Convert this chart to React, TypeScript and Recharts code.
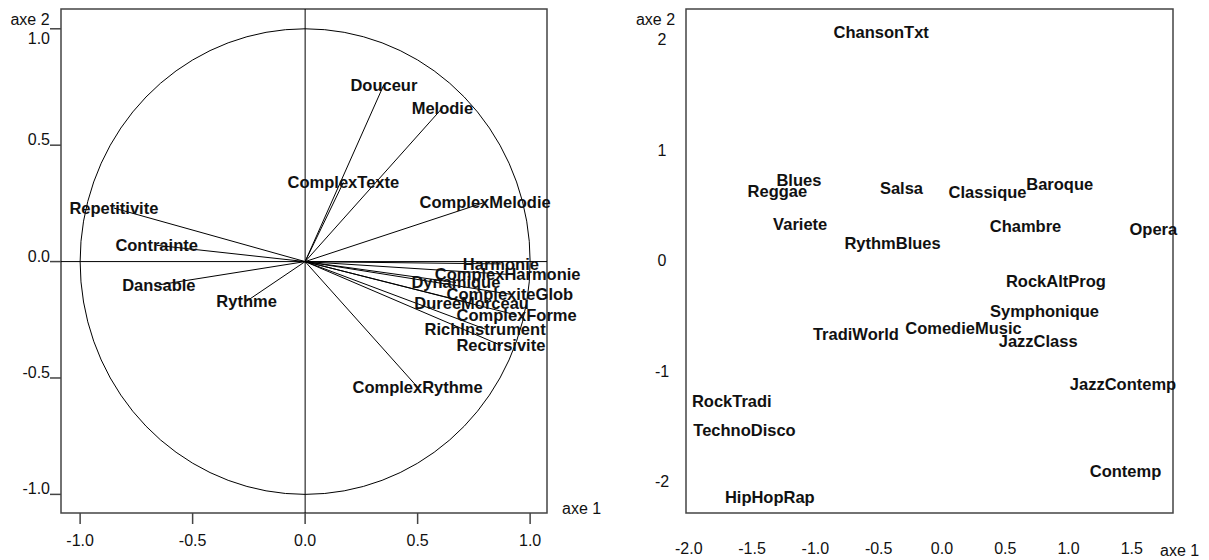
import React from 'react';
import {
  ScatterChart,
  Scatter,
  XAxis,
  YAxis,
  ReferenceLine,
  ReferenceArea,
} from 'recharts';

// correlation circle: variables (axe 1, axe 2)
const VAR_NAMES = [
  'Douceur', 'Melodie', 'ComplexTexte', 'ComplexMelodie', 'Repetitivite', 'Contrainte',
  'Dansable', 'Rythme', 'Harmonie', 'ComplexHarmonie', 'Dynamique', 'ComplexiteGlob',
  'DureeMorceau', 'ComplexForme', 'RichInstrument', 'Recursivite', 'ComplexRythme',
];
const VAR_AXE1 = [0.35, 0.61, 0.17, 0.8, -0.85, -0.66, -0.65, -0.26, 0.87, 0.9, 0.67, 0.91, 0.74, 0.94, 0.8, 0.87, 0.5];
const VAR_AXE2 = [0.76, 0.66, 0.34, 0.255, 0.23, 0.07, -0.1, -0.17, -0.01, -0.055, -0.09, -0.14, -0.18, -0.23, -0.29, -0.36, -0.54];

// genres map
const GENRES = [
  'ChansonTxt', 'Blues', 'Reggae', 'Variete', 'RythmBlues', 'Salsa', 'Classique', 'Baroque',
  'Chambre', 'Opera', 'RockAltProg', 'Symphonique', 'ComedieMusic', 'JazzClass', 'JazzContemp',
  'Contemp', 'TradiWorld', 'RockTradi', 'TechnoDisco', 'HipHopRap',
];
const GENRE_AXE1 = [-0.48, -1.13, -1.3, -1.12, -0.39, -0.32, 0.36, 0.93, 0.66, 1.67, 0.9, 0.81, 0.17, 0.76, 1.43, 1.45, -0.68, -1.66, -1.56, -1.36];
const GENRE_AXE2 = [2.12, 0.78, 0.68, 0.38, 0.21, 0.71, 0.67, 0.74, 0.36, 0.335, -0.14, -0.41, -0.56, -0.68, -1.07, -1.855, -0.615, -1.22, -1.48, -2.09];

const LEFT_TICKS = [-1, -0.5, 0, 0.5, 1];
const RIGHT_X_TICKS = [-2, -1.5, -1, -0.5, 0, 0.5, 1, 1.5];
const RIGHT_Y_TICKS = [-2, -1, 0, 1, 2];

const L_X = [-1.085, 1.075];
const L_Y = [-1.08, 1.085];
const R_X = [-2.022, 1.825];
const R_Y = [-2.235, 2.326];

const variables = VAR_NAMES.map((name, i) => ({ name, x: VAR_AXE1[i], y: VAR_AXE2[i] }));
const genres = GENRES.map((name, i) => ({ name, x: GENRE_AXE1[i], y: GENRE_AXE2[i] }));

// unit circle outline (radius 1)
const circle = Array.from({ length: 73 }, (_, i) => {
  const a = (i * 5 * Math.PI) / 180;
  return { x: Math.cos(a), y: Math.sin(a) };
});

const FONT = '"Liberation Sans", Arial, sans-serif';
const INK = '#111';
const BOX = '#444';

const NameLabel = (props: any) => {
  const { cx, cy, payload } = props;
  return (
    <text x={cx} y={cy} dy="0.36em" textAnchor="middle" fontFamily={FONT} fontSize={16.5} fontWeight="bold" fill={INK}>
      {payload.name}
    </text>
  );
};

const LeftYTick = (props: any) => {
  const { x, y, payload } = props;
  // top label sits under its tick, under the "axe 2" title
  const dy = payload.value === 1 ? 15 : 0;
  return (
    <text x={x} y={y + dy} textAnchor="end" fontFamily={FONT} fontSize={16} fill={INK}>
      {payload.value.toFixed(1)}
    </text>
  );
};

const RightYTick = (props: any) => {
  const { x, y, payload } = props;
  return (
    <text x={x} y={y} textAnchor="middle" fontFamily={FONT} fontSize={16} fill={INK}>
      {payload.value}
    </text>
  );
};

const CorCircle = () => (
  <ScatterChart width={620} height={560} margin={{ top: 9, right: 73, bottom: 7, left: 11 }}>
    <XAxis
      type="number"
      dataKey="x"
      domain={L_X}
      ticks={LEFT_TICKS}
      tickFormatter={(v: number) => v.toFixed(1)}
      height={40}
      tickSize={11}
      tickMargin={11}
      axisLine={false}
      tickLine={{ stroke: BOX, strokeWidth: 1.5 }}
      tick={{ fontSize: 16, fill: INK, fontFamily: FONT }}
      label={{ value: 'axe 1', position: 'right', offset: 15, dy: -25, fontSize: 16, fill: INK, fontFamily: FONT }}
    />
    <YAxis
      type="number"
      dataKey="y"
      domain={L_Y}
      ticks={LEFT_TICKS}
      width={50}
      tickSize={11}
      tickMargin={0}
      axisLine={false}
      tickLine={{ stroke: BOX, strokeWidth: 1.5 }}
      tick={<LeftYTick />}
      label={{ value: 'axe 2', position: 'top', offset: -16, dx: -6, fontSize: 16, fill: INK, fontFamily: FONT }}
    />
    <ReferenceArea x1={L_X[0]} x2={L_X[1]} y1={L_Y[0]} y2={L_Y[1]} fill="none" stroke={BOX} strokeWidth={1.5} />
    <ReferenceLine x={0} stroke="#000" />
    <ReferenceLine y={0} stroke="#000" />
    <Scatter data={circle} line={{ stroke: '#000', strokeWidth: 1 }} shape={() => <g />} isAnimationActive={false} />
    {variables.map((v) => (
      <ReferenceLine key={v.name} segment={[{ x: 0, y: 0 }, { x: v.x, y: v.y }]} stroke="#000" />
    ))}
    <Scatter data={variables} shape={NameLabel} isAnimationActive={false} />
  </ScatterChart>
);

const GenreMap = () => (
  <ScatterChart width={609} height={560} margin={{ top: 9, right: 36, bottom: 7, left: 36 }}>
    <XAxis
      type="number"
      dataKey="x"
      domain={R_X}
      ticks={RIGHT_X_TICKS}
      tickFormatter={(v: number) => v.toFixed(1)}
      height={40}
      tickSize={0}
      tickMargin={30}
      axisLine={false}
      tickLine={false}
      tick={{ fontSize: 16, fill: INK, fontFamily: FONT }}
      label={{ value: 'axe 1', position: 'right', offset: -13, dy: 17, fontSize: 16, fill: INK, fontFamily: FONT }}
    />
    <YAxis
      type="number"
      dataKey="y"
      domain={R_Y}
      ticks={RIGHT_Y_TICKS}
      width={50}
      tickSize={0}
      tickMargin={24}
      axisLine={false}
      tickLine={false}
      tick={<RightYTick />}
      label={{ value: 'axe 2', position: 'top', offset: -16, dx: -5.5, fontSize: 16, fill: INK, fontFamily: FONT }}
    />
    <ReferenceArea x1={R_X[0]} x2={R_X[1]} y1={R_Y[0]} y2={R_Y[1]} fill="none" stroke={BOX} strokeWidth={1.5} />
    <Scatter data={genres} shape={NameLabel} isAnimationActive={false} />
  </ScatterChart>
);

export default function App() {
  return (
    <div style={{ position: 'absolute', left: 0, top: 0, width: 1209, height: 560, background: '#fff', fontFamily: FONT }}>
      <div style={{ position: 'absolute', left: 0, top: 0 }}>
        <CorCircle />
      </div>
      <div style={{ position: 'absolute', left: 600, top: 0 }}>
        <GenreMap />
      </div>
    </div>
  );
}
